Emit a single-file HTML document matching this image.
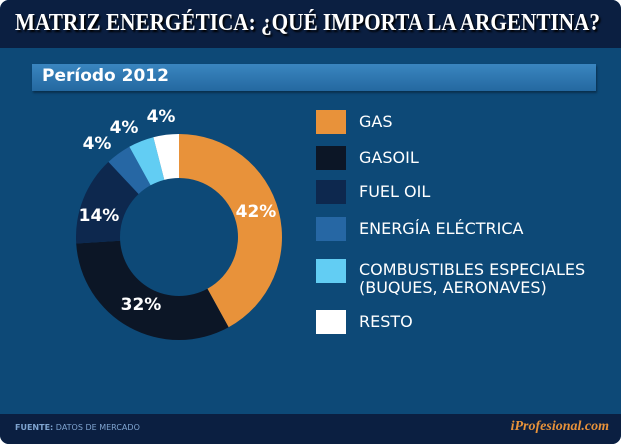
<!DOCTYPE html>
<html><head><meta charset="utf-8"><style>
html,body{margin:0;padding:0;background:#fff;}
#c{position:relative;width:621px;height:444px;overflow:hidden;font-family:"DejaVu Sans","Liberation Sans",sans-serif;}
#frame{position:absolute;left:0;top:0;width:621px;height:444px;border-radius:9px;background:#0d4977;overflow:hidden;}
#hdr{position:absolute;left:0;top:0;width:621px;height:48px;background:#0b1f41;}
#ttl{position:absolute;left:15px;top:10px;font-family:"Liberation Serif",serif;font-weight:bold;font-size:24px;color:#fff;text-shadow:2px 2px 2px #000;white-space:nowrap;transform-origin:0 0;}
#bar{position:absolute;left:32px;top:64px;width:564px;height:27px;background:linear-gradient(#3a86c0,#2468a0);box-shadow:1px 2px 2px rgba(0,0,0,.35);}
#bar span{position:absolute;left:10px;top:2px;font-size:17px;font-weight:bold;color:#fff;}
#ftr{position:absolute;left:0;top:414px;width:621px;height:30px;background:#0b1f41;}
.f1{position:absolute;left:15px;top:9px;font-size:8px;color:#7fa4d0;}
.f2{position:absolute;right:12px;top:5px;font-family:"Liberation Serif",serif;font-style:italic;font-weight:bold;font-size:14px;color:#e8923a;}
.sq{position:absolute;left:316px;width:30px;height:24px;}
.lt{position:absolute;left:359px;font-size:16px;color:#fff;line-height:18px;white-space:nowrap;}
</style></head><body><div id="c"><div id="frame">
<div id="hdr"><span id="ttl">MATRIZ ENERGÉTICA: ¿QUÉ IMPORTA LA ARGENTINA?</span></div>
<div id="bar"><span>Período 2012</span></div>
<svg id="pie" width="621" height="444" style="position:absolute;left:0;top:0"></svg>
<div class="sq" style="top:110px;background:#e8923a"></div><div class="lt" style="top:113px">GAS</div>
<div class="sq" style="top:146px;background:#0c1626"></div><div class="lt" style="top:149px">GASOIL</div>
<div class="sq" style="top:180px;background:#0d284e"></div><div class="lt" style="top:183px">FUEL OIL</div>
<div class="sq" style="top:217px;background:#2667a4"></div><div class="lt" style="top:220px">ENERGÍA ELÉCTRICA</div>
<div class="sq" style="top:259px;background:#62cdf3"></div><div class="lt" style="top:261px">COMBUSTIBLES ESPECIALES<br>(BUQUES, AERONAVES)</div>
<div class="sq" style="top:310px;background:#ffffff"></div><div class="lt" style="top:313px">RESTO</div>
<div id="ftr"><span class="f1"><b>FUENTE:</b> DATOS DE MERCADO</span><span class="f2">iProfesional.com</span></div>
</div></div>
<script>
var t=document.getElementById('ttl');var w=t.getBoundingClientRect().width;t.style.transform='scaleX('+(585/w)+')';
var s=document.getElementById('pie'),cx=179,cy=237,R=103,r=59;
var d=[[42,'#e8923a'],[32,'#0c1626'],[14,'#0d284e'],[4,'#2667a4'],[4,'#62cdf3'],[4,'#ffffff']];
var a=0,h='';
function p(rad,t){return (cx+rad*Math.sin(t)).toFixed(2)+' '+(cy-rad*Math.cos(t)).toFixed(2);}
d.forEach(function(e){var t0=a/100*2*Math.PI;a+=e[0];var t1=a/100*2*Math.PI;var L=(e[0]>50)?1:0;
h+='<path d="M'+p(R,t0)+' A'+R+' '+R+' 0 '+L+' 1 '+p(R,t1)+' L'+p(r,t1)+' A'+r+' '+r+' 0 '+L+' 0 '+p(r,t0)+' Z" fill="'+e[1]+'"/>';});
var lb=[[256,217,'42%'],[141,310,'32%'],[99,221,'14%'],[97,149,'4%'],[124,133,'4%'],[161,122,'4%']];
lb.forEach(function(l){h+='<text x="'+l[0]+'" y="'+l[1]+'" text-anchor="middle" font-family="DejaVu Sans,sans-serif" font-weight="bold" font-size="17" fill="#fff">'+l[2]+'</text>';});
s.innerHTML=h;
</script>
</body></html>
